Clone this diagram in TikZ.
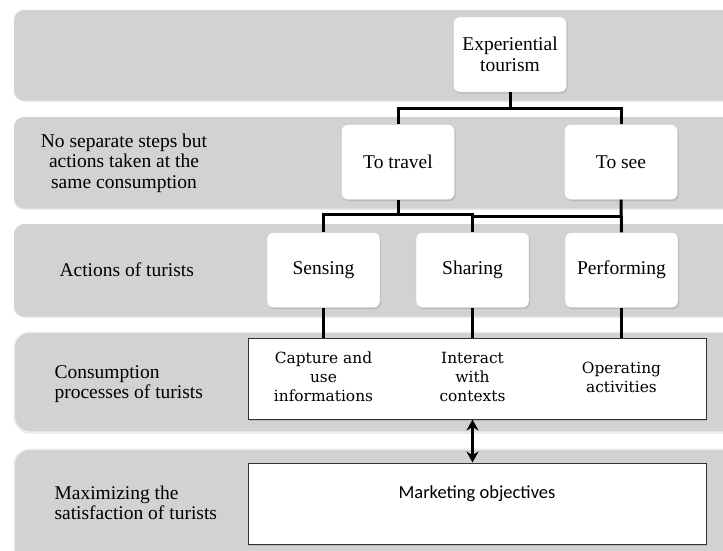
\documentclass[tikz,border=0pt]{standalone}
\usepackage{fontspec}
\setmainfont{Liberation Serif}
\newfontfamily\boxfont{DejaVu Serif}
\newfontfamily\objfont{Carlito}
\usetikzlibrary{positioning,shadows,arrows.meta,calc}

\begin{document}
\begin{tikzpicture}[x=1pt,y=-1pt,
  band/.style={fill=gray!35, rounded corners=10pt,
    drop shadow={opacity=0.25,shadow xshift=0pt,shadow yshift=-1.5pt}},
  bigband/.style={band, rounded corners=16pt, draw=gray!12, line width=1.5pt},
  actbox/.style={draw=gray!45, fill=white, rounded corners=6pt,
    minimum width=113pt, minimum height=75pt, align=center,
    font=\fontsize{19.5}{20.5}\selectfont,
    drop shadow={opacity=0.3,shadow xshift=1pt,shadow yshift=-1.5pt}},
  widebox/.style={draw=black!80, line width=1pt, fill=white,
    minimum width=458pt, minimum height=81pt,
    drop shadow={opacity=0.3,shadow xshift=1pt,shadow yshift=-1.5pt}},
  proc/.style={align=center, font=\boxfont\fontsize{15.4}{19}\selectfont},
  rowlabel/.style={font=\fontsize{19.5}{20.5}\selectfont},
  link/.style={line width=3pt, black}]

\useasboundingbox (0,0) rectangle (723,551);
\clip (0,0) rectangle (723,551);

% rows
\path[band] (14,10) rectangle (740,100);
\path[band] (14,117) rectangle (740,208);
\path[band] (14,224) rectangle (740,316);
\path[bigband] (14,332) rectangle (740,432);
\path[bigband] (14,449) rectangle (740,570);

% row labels
\node[rowlabel, align=center] (l2) at (124,163) {No separate steps but\\actions taken at the\\same consumption};
\node[rowlabel, anchor=west] (l3) at (56,270) {Actions of turists};
\node[rowlabel, anchor=west, align=left] (l4) at (51,384) {Consumption\\processes of turists};
\node[rowlabel, anchor=west, align=left] (l5) at (51,503) {Maximizing the\\satisfaction of turists};

% tree
\node[actbox] (expe) at (510,54.5) {Experiential\\tourism};
\node[actbox] (travel) at (398,162) {To travel};
\node[actbox] (see) at (621,162) {To see};
\node[actbox] (sense) at (323.5,270) {Sensing};
\node[actbox] (share) at (472.5,270) {Sharing};
\node[actbox] (perf) at (621.5,270) {Performing};

\node[widebox] (cons) at (477,378.5) {};
\node[proc] (capt) at (323.5,377) {Capture and\\use\\informations};
\node[proc] (inter) at (472.5,377) {Interact\\with\\contexts};
\node[proc] (oper) at (621.5,377) {Operating\\activities};

\node[widebox] (market) at (477,503.5) {};
\node[font=\objfont\fontsize{18.5}{20}\selectfont] (mobj) at (477,494) {Marketing objectives};

\draw[link] (expe.south) -- ++(0,16) coordinate (j1);
\draw[link] (travel.north) |- (j1) -| (see.north);
\draw[link] (travel.south) -- ++(0,15) coordinate (j2);
\draw[link] (sense.north) |- (j2) -| (share.north);
\coordinate (j3) at ($(j2)+(0,2)$);
\draw[link] (j3 -| share.north) -- (j3 -| see.south);
\draw[link] (see.south) -- (perf.north);
\foreach \n in {sense,share,perf}
  \draw[link] (\n.south) -- (\n.south |- cons.north);

\draw[link, {Stealth[length=11pt,width=12pt]}-{Stealth[length=11pt,width=12pt]}]
  (share.south |- cons.south) -- (share.south |- market.north);

\end{tikzpicture}
\end{document}
